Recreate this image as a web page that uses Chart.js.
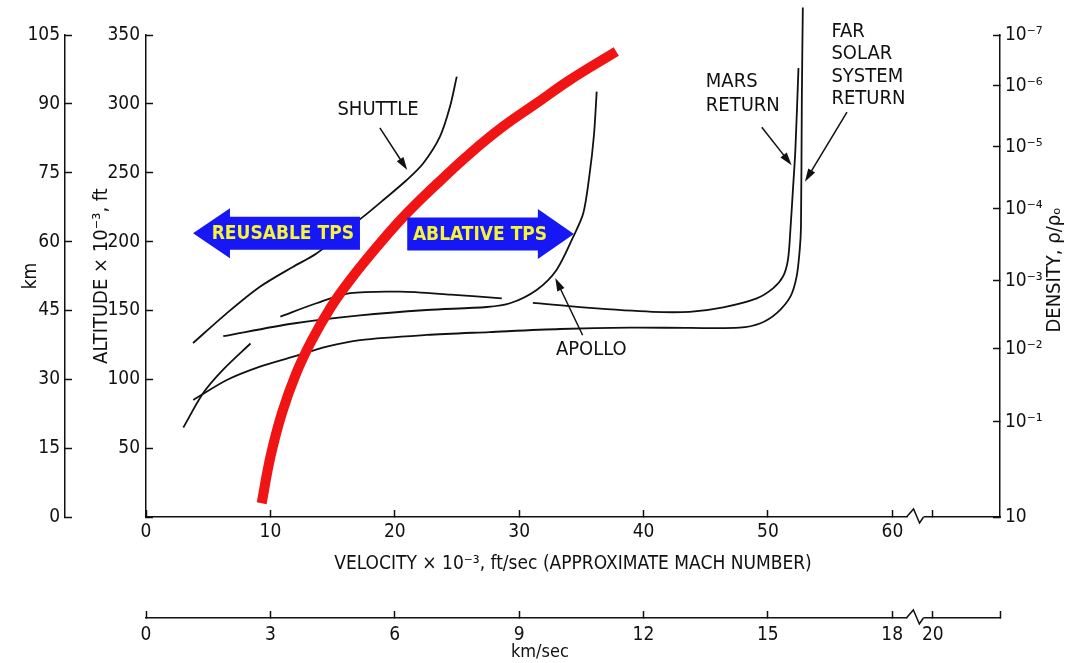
<!DOCTYPE html>
<html>
<head>
<meta charset="utf-8">
<script src="https://cdn.jsdelivr.net/npm/chart.js@4.4.1/dist/chart.umd.min.js"></script>
<style>
  html, body { margin: 0; padding: 0; background: #fff; }
  #wrap { width: 1065px; height: 663px; }
</style>
</head>
<body>
<div id="wrap"><canvas id="entry-chart"></canvas></div>
<script>
const FONT = '"Liberation Sans Narrow", "Arial Narrow", "DejaVu Sans Condensed", "Liberation Sans", sans-serif';

// velocity in ft/sec x 10^-3, altitude in ft x 10^-3
const heatingVel = [9.3, 10.0, 10.93, 12.09, 13.34, 14.87, 16.4, 18.55, 20.7, 23.4, 26.05, 28.7, 31.4, 34.1, 37.8];
const heatingAlt = [10, 43.6, 75.5, 104.6, 128.5, 152.5, 172, 196, 218, 242, 264, 283.5, 300.5, 317.5, 338];

const shuttleVel = [3.78, 6.46, 9.13, 11.8, 13.7, 17.47, 19.08, 20.96, 22.29, 23.63, 24.44, 24.98];
const shuttleAlt = [126.3, 147.7, 167, 181.6, 191.3, 218.1, 230.2, 244.7, 256.9, 276.2, 298, 319.8];

const lowSteepVel = [3.0, 4.6, 6.2, 8.4];
const lowSteepAlt = [65, 90, 107, 126];

const farVel = [3.8, 6.5, 9.16, 11.84, 14.53, 17.2, 22.56, 27.6, 33.3, 38.9, 43.7, 47.7, 49.4, 50.7, 51.8, 52.3, 52.55, 52.65, 52.72, 52.8];
const farAlt = [85, 99.5, 109.2, 116.4, 123.7, 128.5, 132.2, 134.3, 136.5, 137.5, 137.3, 137.5, 140.7, 148, 160, 174.5, 194, 210, 303, 370];

const apolloVel = [6.21, 11.84, 17.2, 22.56, 27.4, 29.26, 31.4, 33.0, 34.35, 35.15, 35.65, 36.01, 36.23];
const apolloAlt = [131.3, 140.5, 146.4, 150.3, 152.5, 155.2, 164.9, 179.4, 203.6, 220.5, 248.4, 277.4, 308.9];

const humpVel = [10.8, 13.7, 16.4, 20.4, 24.5, 28.6];
const humpAlt = [145.5, 155.2, 162.5, 163.6, 161.5, 158.8];

const marsVel = [31.1, 35.4, 40.7, 43.7, 46.4, 49.1, 50.4, 51.2, 51.6, 51.8, 52.0, 52.2, 52.45];
const marsAlt = [155.5, 152, 149, 149, 152.3, 158.8, 166, 174.5, 186.6, 208.4, 237, 266.5, 326];

// axis ticks
const velTicks = [0, 10, 20, 30, 40, 50, 60, 63.26];
const velTickLabels = ['0', '10', '20', '30', '40', '50', '60', ''];
const kmsTicks = [0, 3, 6, 9, 12, 15, 18, 18.98, 20.6];
const kmsTickLabels = ['0', '3', '6', '9', '12', '15', '18', '20', ''];
const densityTickAlt = [0, 69, 122, 171.5, 223.7, 268.7, 313, 350];
const densityTickLabels = ['10', '10⁻¹', '10⁻²', '10⁻³', '10⁻⁴', '10⁻⁵', '10⁻⁶', '10⁻⁷'];

// annotations, in the same data units
const notes = [
  { text: 'SHUTTLE', v: 18.65, alt: 295.5, align: 'center' },
  { text: 'MARS', v: 45.0, alt: 316, align: 'left' },
  { text: 'RETURN', v: 45.0, alt: 298.5, align: 'left' },
  { text: 'FAR', v: 55.1, alt: 352, align: 'left' },
  { text: 'SOLAR', v: 55.1, alt: 336, align: 'left' },
  { text: 'SYSTEM', v: 55.1, alt: 320, align: 'left' },
  { text: 'RETURN', v: 55.1, alt: 304, align: 'left' },
  { text: 'APOLLO', v: 35.8, alt: 121.5, align: 'center' },
];
const pointers = [
  { from: [18.8, 282.5], to: [21.0, 252] },
  { from: [49.5, 283], to: [51.9, 255.5] },
  { from: [56.35, 294], to: [52.97, 243.5] },
  { from: [35.1, 132], to: [32.9, 173.5] },
];
const tpsArrows = [
  { text: 'REUSABLE TPS', tip: 3.78, base: 6.75, tail: 17.2, textV: 11.0, alt: 206 },
  { text: 'ABLATIVE TPS', tip: 34.4, base: 31.5, tail: 21.0, textV: 26.85, alt: 205.5 },
];
const breakVel = 61.7;
const breakKms = 18.51;
const kmsTitleAt = 9.5;

function toPoints(xs, ys) {
  return xs.map((v, i) => ({ x: v, y: ys[i] }));
}

function curve(vel, alt) {
  return {
    data: toPoints(vel, alt),
    borderColor: '#111',
    borderWidth: 1.8,
    tension: 0.3,
    pointRadius: 0,
    fill: false,
    clip: false,
  };
}

const extras = {
  id: 'extras',
  afterDatasetsDraw(chart) {
    const { ctx } = chart;
    const xs = chart.scales.x;
    const ys = chart.scales.y;

    // thin pointer arrows
    ctx.save();
    ctx.strokeStyle = '#111';
    ctx.fillStyle = '#111';
    ctx.lineWidth = 1.5;
    pointers.forEach((p) => {
      const x1 = xs.getPixelForValue(p.from[0]);
      const y1 = ys.getPixelForValue(p.from[1]);
      const x2 = xs.getPixelForValue(p.to[0]);
      const y2 = ys.getPixelForValue(p.to[1]);
      const a = Math.atan2(y2 - y1, x2 - x1);
      ctx.beginPath();
      ctx.moveTo(x1, y1);
      ctx.lineTo(x2 - 8 * Math.cos(a), y2 - 8 * Math.sin(a));
      ctx.stroke();
      ctx.beginPath();
      ctx.moveTo(x2, y2);
      ctx.lineTo(x2 - 13 * Math.cos(a) + 4 * Math.sin(a), y2 - 13 * Math.sin(a) - 4 * Math.cos(a));
      ctx.lineTo(x2 - 13 * Math.cos(a) - 4 * Math.sin(a), y2 - 13 * Math.sin(a) + 4 * Math.cos(a));
      ctx.closePath();
      ctx.fill();
    });

    // text labels
    ctx.font = '20px ' + FONT;
    ctx.textBaseline = 'middle';
    notes.forEach((n) => {
      ctx.textAlign = n.align;
      ctx.fillText(n.text, xs.getPixelForValue(n.v), ys.getPixelForValue(n.alt));
    });

    // blue TPS arrows
    tpsArrows.forEach((t) => {
      const tip = xs.getPixelForValue(t.tip);
      const base = xs.getPixelForValue(t.base);
      const tail = xs.getPixelForValue(t.tail);
      const cy = ys.getPixelForValue(t.alt);
      ctx.fillStyle = '#1717f5';
      ctx.beginPath();
      ctx.moveTo(tip, cy);
      ctx.lineTo(base, cy - 25);
      ctx.lineTo(base, cy - 16.5);
      ctx.lineTo(tail, cy - 16.5);
      ctx.lineTo(tail, cy + 16.5);
      ctx.lineTo(base, cy + 16.5);
      ctx.lineTo(base, cy + 25);
      ctx.closePath();
      ctx.fill();
      ctx.fillStyle = '#f4f43c';
      ctx.font = 'bold 19px ' + FONT;
      ctx.textAlign = 'center';
      ctx.fillText(t.text, xs.getPixelForValue(t.textV), cy + 1);
    });
    ctx.restore();
  },
  afterDraw(chart) {
    const { ctx } = chart;
    const xs = chart.scales.x;
    const x2 = chart.scales.x2;
    const yd = chart.scales.yd;

    // axis breaks
    ctx.save();
    ctx.strokeStyle = '#111';
    ctx.lineWidth = 1.5;
    [[xs, xs.getPixelForValue(breakVel)], [x2, x2.getPixelForValue(breakKms)]].forEach(([s, bx]) => {
      const by = s.top;
      ctx.fillStyle = '#fff';
      ctx.fillRect(bx - 6, by - 3, 16, 6);
      ctx.beginPath();
      ctx.moveTo(bx - 7, by);
      ctx.lineTo(bx, by - 8);
      ctx.lineTo(bx + 6, by + 6);
      ctx.lineTo(bx + 10, by);
      ctx.stroke();
    });

    // km/sec title under the lower axis
    ctx.fillStyle = '#111';
    ctx.font = '18px ' + FONT;
    ctx.textAlign = 'center';
    ctx.textBaseline = 'middle';
    ctx.fillText('km/sec', x2.getPixelForValue(kmsTitleAt), x2.bottom - 11);

    // density title, read bottom to top
    ctx.font = '20px ' + FONT;
    ctx.translate(yd.right - 10, (chart.chartArea.top + chart.chartArea.bottom) / 2 - 6);
    ctx.rotate(-Math.PI / 2);
    ctx.fillText('DENSITY, ρ/ρₒ', 0, 0);
    ctx.restore();
  },
};

const tickFont = { family: FONT, size: 19 };
const axisGrid = { drawOnChartArea: false, tickLength: -7, tickColor: '#111', tickWidth: 1.5 };
const axisBorder = { color: '#111', width: 1.5 };

new Chart(document.getElementById('entry-chart'), {
  type: 'line',
  data: {
    datasets: [
      {
        data: toPoints(heatingVel, heatingAlt),
        borderColor: '#f01414',
        borderWidth: 10,
        borderCapStyle: 'butt',
        tension: 0.4,
        pointRadius: 0,
        fill: false,
      },
      curve(shuttleVel, shuttleAlt),
      curve(lowSteepVel, lowSteepAlt),
      curve(farVel, farAlt),
      curve(apolloVel, apolloAlt),
      curve(humpVel, humpAlt),
      curve(marsVel, marsAlt),
    ],
  },
  options: {
    responsive: true,
    maintainAspectRatio: false,
    animation: false,
    layout: { padding: { left: 20, top: 35, right: 0, bottom: 0 } },
    plugins: { legend: { display: false }, tooltip: { enabled: false } },
    scales: {
      x: {
        type: 'linear',
        position: 'bottom',
        weight: 0,
        min: 0,
        max: 68.65,
        afterBuildTicks: (s) => { s.ticks = velTicks.map((v) => ({ value: v })); },
        afterFit: (s) => { s.height = 101; },
        ticks: {
          autoSkip: false, maxRotation: 0, padding: 11, color: '#111', font: tickFont,
          callback: (v, i) => velTickLabels[i],
        },
        grid: axisGrid,
        border: axisBorder,
        title: {
          display: true,
          text: 'VELOCITY × 10⁻³, ft/sec (APPROXIMATE MACH NUMBER)',
          color: '#111',
          font: { family: FONT, size: 19 },
          padding: { top: 0, bottom: 43 },
        },
      },
      x2: {
        type: 'linear',
        position: 'bottom',
        weight: 1,
        min: 0,
        max: 20.6,
        afterBuildTicks: (s) => { s.ticks = kmsTicks.map((v) => ({ value: v })); },
        afterFit: (s) => { s.height = 45; },
        ticks: {
          autoSkip: false, maxRotation: 0, padding: 13, color: '#111', font: tickFont,
          callback: (v, i) => kmsTickLabels[i],
        },
        grid: axisGrid,
        border: axisBorder,
      },
      y: {
        type: 'linear',
        position: 'left',
        weight: 0,
        min: 0,
        max: 350,
        afterFit: (s) => { s.width = 81; },
        ticks: {
          stepSize: 50, padding: 13, color: '#111', font: tickFont,
          callback: (v) => (v === 0 ? '' : String(v)),
        },
        grid: axisGrid,
        border: axisBorder,
        title: {
          display: true,
          text: 'ALTITUDE × 10⁻³, ft',
          color: '#111',
          font: { family: FONT, size: 20 },
          padding: { top: 25, bottom: 0 },
        },
      },
      ykm: {
        type: 'linear',
        position: 'left',
        weight: 1,
        min: 0,
        max: 105,
        afterFit: (s) => { s.width = 45; },
        ticks: { stepSize: 15, padding: 12, color: '#111', font: tickFont },
        grid: axisGrid,
        border: axisBorder,
        title: {
          display: true,
          text: 'km',
          color: '#111',
          font: { family: FONT, size: 19 },
          padding: { top: 0, bottom: 0 },
        },
      },
      yd: {
        type: 'linear',
        position: 'right',
        min: 0,
        max: 350,
        afterBuildTicks: (s) => { s.ticks = densityTickAlt.map((v) => ({ value: v })); },
        afterFit: (s) => { s.width = 65; },
        ticks: {
          padding: 12, color: '#111', font: tickFont,
          callback: (v, i) => densityTickLabels[i],
        },
        grid: axisGrid,
        border: axisBorder,
      },
    },
  },
  plugins: [extras],
});
</script>
</body>
</html>
